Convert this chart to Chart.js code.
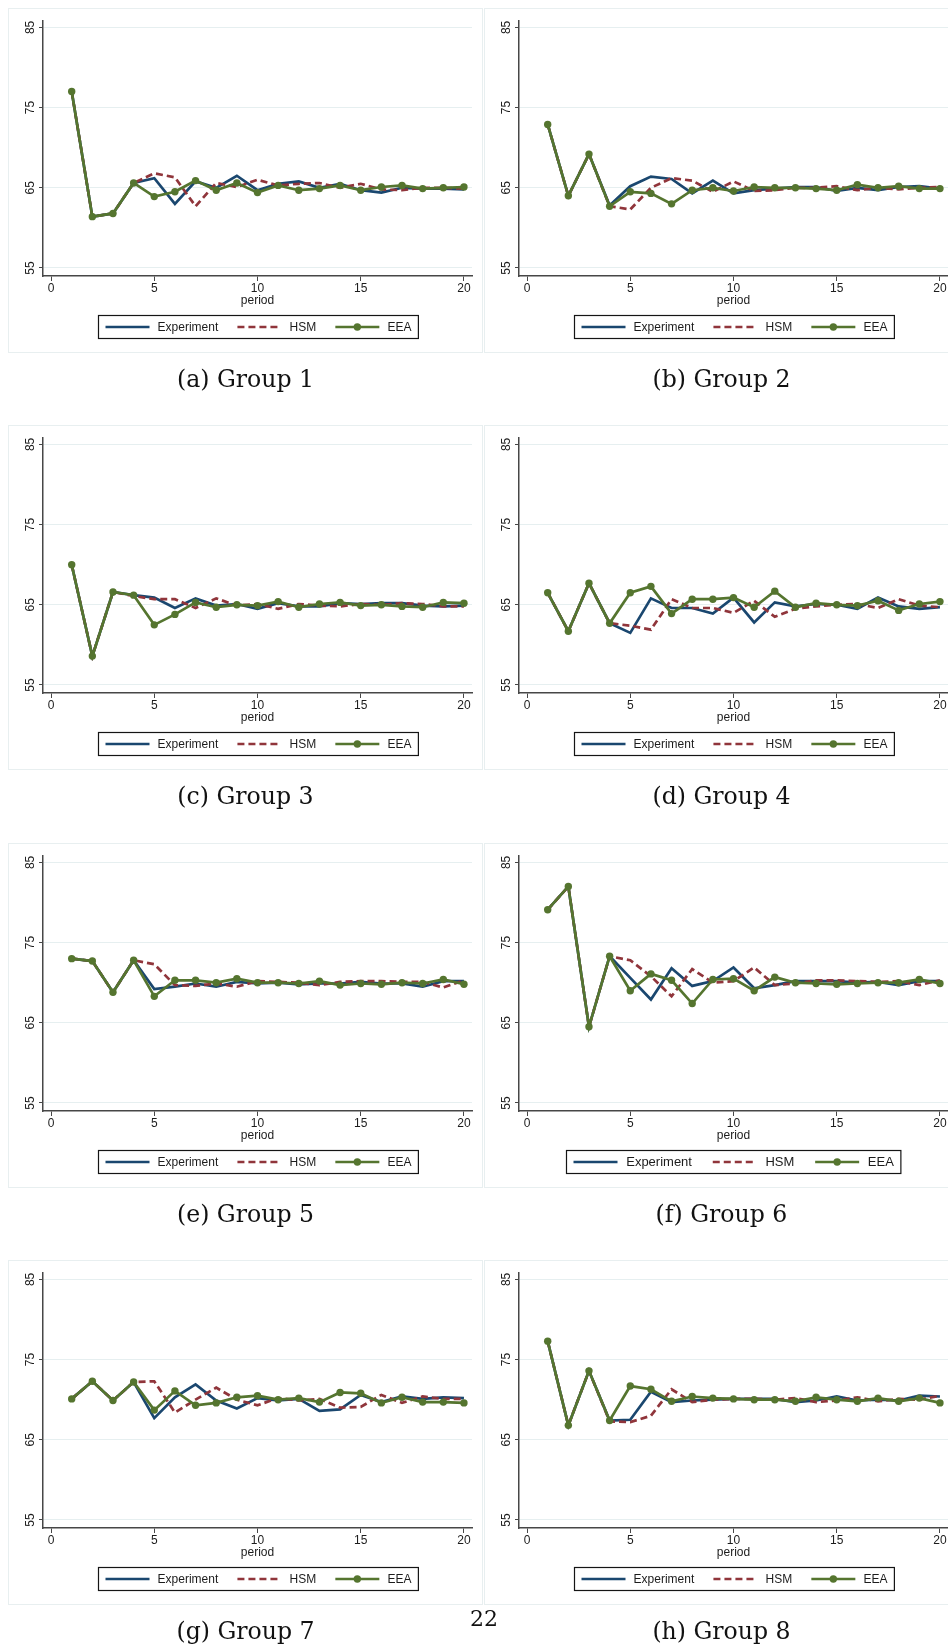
<!DOCTYPE html>
<html>
<head>
<meta charset="utf-8">
<title>Groups 1-8: Experiment, HSM and EEA by period</title>
<script src="https://cdn.jsdelivr.net/npm/chart.js@4.4.1/dist/chart.umd.min.js"></script>
<style>
  html, body { margin: 0; padding: 0; background: #fff; }
  body { width: 948px; height: 1646px; position: relative; overflow: hidden; }
  .panel { position: absolute; width: 475px; height: 345px; outline: 1px solid #e8eff0; outline-offset: -1px; }
  .caption { position: absolute; width: 475px; text-align: center; font-family: "DejaVu Serif", serif;
             font-size: 23.6px; line-height: 24px; color: #111; }
  #pageNo { position: absolute; left: 460px; top: 1608px; width: 48px; text-align: center;
            font-family: "DejaVu Serif", serif; font-size: 22px; line-height: 22px; color: #111; }
</style>
</head>
<body>
<div id="figure"></div>
<div id="pageNo">22</div>
<script>
const periods = [1, 2, 3, 4, 5, 6, 7, 8, 9, 10, 11, 12, 13, 14, 15, 16, 17, 18, 19, 20];
const xTickValues = [0, 5, 10, 15, 20];
const yTickValues = [55, 65, 75, 85];
const seriesNames = ['Experiment', 'HSM', 'EEA'];
const captions = ['(a) Group 1', '(b) Group 2', '(c) Group 3', '(d) Group 4',
                  '(e) Group 5', '(f) Group 6', '(g) Group 7', '(h) Group 8'];

const g1Experiment = [77.0, 61.4, 61.8, 65.6, 66.2, 63.0, 65.8, 65.0, 66.5, 64.7, 65.5, 65.8, 65.0, 65.5, 64.7, 64.4, 65.0, 64.9, 64.9, 64.8];
const g1HSM        = [77.0, 61.4, 61.8, 65.6, 66.8, 66.3, 62.7, 65.6, 65.1, 66.0, 65.3, 65.5, 65.6, 65.0, 65.5, 64.8, 64.7, 65.0, 65.0, 64.9];
const g1EEA        = [77.0, 61.4, 61.8, 65.6, 63.9, 64.5, 65.9, 64.7, 65.6, 64.4, 65.3, 64.7, 64.9, 65.3, 64.7, 65.1, 65.3, 64.9, 65.0, 65.1];

const g2Experiment = [72.9, 64.0, 69.2, 62.8, 65.2, 66.4, 66.1, 64.3, 65.9, 64.3, 64.7, 64.9, 65.1, 65.1, 64.6, 65.0, 64.7, 65.1, 65.2, 64.9];
const g2HSM        = [72.9, 64.0, 69.2, 62.7, 62.3, 65.0, 66.2, 65.9, 64.5, 65.8, 64.6, 64.7, 65.0, 65.0, 65.2, 64.7, 65.0, 64.8, 65.0, 65.1];
const g2EEA        = [72.9, 64.0, 69.2, 62.7, 64.5, 64.3, 63.0, 64.7, 65.0, 64.6, 65.1, 65.0, 65.0, 64.9, 64.7, 65.4, 65.0, 65.2, 64.9, 64.9];

const g3Experiment = [70.0, 58.6, 66.6, 66.2, 65.9, 64.6, 65.8, 64.9, 65.1, 64.5, 65.2, 64.8, 64.8, 65.2, 65.1, 65.2, 65.2, 64.9, 64.8, 64.9];
const g3HSM        = [70.0, 58.6, 66.6, 66.1, 65.7, 65.7, 64.6, 65.8, 64.9, 65.1, 64.5, 65.1, 64.9, 64.8, 65.1, 65.0, 65.2, 65.1, 64.8, 64.8];
const g3EEA        = [70.0, 58.6, 66.6, 66.2, 62.5, 63.8, 65.3, 64.7, 65.0, 64.9, 65.4, 64.7, 65.1, 65.3, 64.9, 65.0, 64.8, 64.7, 65.3, 65.2];

const g4Experiment = [66.5, 61.7, 67.7, 62.7, 61.5, 65.8, 64.6, 64.6, 63.9, 65.9, 62.8, 65.3, 64.8, 65.1, 65.0, 64.5, 65.9, 64.8, 64.5, 64.7];
const g4HSM        = [66.5, 61.7, 67.7, 62.7, 62.4, 61.9, 65.7, 64.6, 64.6, 64.0, 65.5, 63.5, 64.5, 64.8, 65.0, 65.1, 64.6, 65.7, 64.9, 64.7];
const g4EEA        = [66.5, 61.7, 67.7, 62.7, 66.5, 67.3, 63.9, 65.7, 65.7, 65.9, 64.7, 66.7, 64.7, 65.2, 65.0, 64.9, 65.5, 64.3, 65.1, 65.4];

const g5Experiment = [73.0, 72.7, 68.8, 72.8, 69.2, 69.5, 69.9, 69.5, 70.1, 69.9, 70.0, 69.8, 69.9, 69.9, 70.1, 69.9, 69.9, 69.5, 70.2, 70.2];
const g5HSM        = [73.0, 72.7, 68.8, 72.8, 72.3, 69.7, 69.6, 69.9, 69.5, 70.2, 70.1, 70.0, 69.7, 70.1, 70.2, 70.2, 70.1, 70.1, 69.4, 70.3];
const g5EEA        = [73.0, 72.7, 68.8, 72.8, 68.3, 70.3, 70.3, 70.0, 70.5, 70.0, 70.0, 69.9, 70.2, 69.7, 69.9, 69.8, 70.0, 69.9, 70.4, 69.8];

const g6Experiment = [79.1, 82.0, 64.5, 73.3, 70.6, 67.9, 71.8, 69.6, 70.2, 71.9, 69.3, 69.7, 70.2, 70.2, 70.2, 70.0, 70.1, 69.7, 70.2, 70.2];
const g6HSM        = [79.1, 82.0, 64.5, 73.3, 72.8, 70.8, 68.3, 71.7, 70.0, 70.2, 71.9, 69.7, 69.9, 70.3, 70.3, 70.2, 70.1, 70.2, 69.7, 70.3];
const g6EEA        = [79.1, 82.0, 64.5, 73.3, 69.0, 71.1, 70.3, 67.4, 70.4, 70.5, 69.0, 70.7, 70.0, 69.9, 69.8, 69.9, 70.0, 70.0, 70.4, 69.9];

const g7Experiment = [70.1, 72.3, 69.9, 72.2, 67.7, 70.3, 71.9, 69.9, 68.9, 70.2, 69.9, 70.1, 68.6, 68.8, 70.6, 69.7, 70.4, 70.1, 70.3, 70.2];
const g7HSM        = [70.1, 72.3, 69.9, 72.2, 72.3, 68.4, 70.0, 71.5, 70.0, 69.3, 70.2, 69.9, 70.1, 69.0, 69.1, 70.6, 69.6, 70.4, 70.1, 70.1];
const g7EEA        = [70.1, 72.3, 69.9, 72.2, 68.7, 71.1, 69.3, 69.6, 70.3, 70.5, 70.0, 70.2, 69.7, 70.9, 70.8, 69.6, 70.3, 69.7, 69.7, 69.6];

const g8Experiment = [77.3, 66.8, 73.6, 67.4, 67.5, 71.0, 69.7, 69.9, 70.0, 70.1, 70.1, 70.1, 69.7, 69.9, 70.4, 69.9, 70.0, 69.9, 70.5, 70.4];
const g8HSM        = [77.3, 66.8, 73.6, 67.3, 67.2, 68.0, 71.3, 69.7, 70.0, 70.1, 70.1, 70.0, 70.2, 69.7, 69.9, 70.3, 69.8, 70.1, 70.0, 70.5];
const g8EEA        = [77.3, 66.8, 73.6, 67.4, 71.7, 71.3, 69.8, 70.4, 70.2, 70.1, 70.0, 70.0, 69.8, 70.3, 70.0, 69.8, 70.2, 69.8, 70.2, 69.6];

// styling (Stata s2color-like)
const NAVY = '#1a476f', MAROON = '#90353b', GREEN = '#55752f';
const AXIS = '#474747', GRID = '#e6eff0', TEXT = '#1c1c1c';
const FONT = '"Liberation Sans", Arial, Helvetica, sans-serif';
const colLeft = [8, 484];
const rowTop = [8, 425, 843, 1260];

const groups = [
    [g1Experiment, g1HSM, g1EEA], [g2Experiment, g2HSM, g2EEA],
    [g3Experiment, g3HSM, g3EEA], [g4Experiment, g4HSM, g4EEA],
    [g5Experiment, g5HSM, g5EEA], [g6Experiment, g6HSM, g6EEA],
    [g7Experiment, g7HSM, g7EEA], [g8Experiment, g8HSM, g8EEA],
];

// Legend drawn Stata style: framed box under the axis title
const stataLegend = {
    id: 'stataLegend',
    afterDraw(chart, args, opts) {
        const ctx = chart.ctx;
        const size = opts.fontSize;
        const area = chart.chartArea;
        ctx.save();
        ctx.font = size + 'px ' + FONT;
        const sample = 44, gapText = size * 0.67, gapItem = size * 1.6, pad = 7;
        const items = chart.data.datasets.map(ds => ({ ds: ds, w: ctx.measureText(ds.label).width }));
        let total = pad * 2 + gapItem * (items.length - 1);
        items.forEach(it => { total += sample + gapText + it.w; });
        const left = Math.round((area.left + area.right) / 2 - total / 2) + 0.5;
        const top = Math.round(area.bottom + opts.offset) + 0.5;
        const h = opts.height;
        const cy = top + h / 2;

        ctx.strokeStyle = '#151515';
        ctx.lineWidth = 1.2;
        ctx.strokeRect(left, top, total, h);

        let x = left + pad;
        items.forEach(it => {
            const ds = it.ds;
            ctx.beginPath();
            ctx.setLineDash(ds.borderDash || []);
            ctx.strokeStyle = ds.borderColor;
            ctx.lineWidth = ds.borderWidth;
            ctx.moveTo(x, cy);
            ctx.lineTo(x + sample, cy);
            ctx.stroke();
            ctx.setLineDash([]);
            if (ds.pointRadius > 0) {
                ctx.beginPath();
                ctx.fillStyle = ds.pointBackgroundColor;
                ctx.arc(x + sample / 2, cy, ds.pointRadius, 0, Math.PI * 2);
                ctx.fill();
            }
            x += sample + gapText;
            ctx.fillStyle = TEXT;
            ctx.textBaseline = 'middle';
            ctx.textAlign = 'left';
            ctx.fillText(ds.label, x, cy + 0.5);
            x += it.w + gapItem;
        });
        ctx.restore();
    }
};

document.addEventListener('DOMContentLoaded', function () {
    const figure = document.getElementById('figure');

    groups.forEach(function (series, i) {
        const left = colLeft[i % 2];
        const top = rowTop[Math.floor(i / 2)];

        const panel = document.createElement('div');
        panel.className = 'panel';
        panel.style.left = left + 'px';
        panel.style.top = top + 'px';
        const canvas = document.createElement('canvas');
        canvas.width = 475;
        canvas.height = 345;
        panel.appendChild(canvas);
        figure.appendChild(panel);

        const caption = document.createElement('div');
        caption.className = 'caption';
        caption.style.left = left + 'px';
        caption.style.top = (top + 359) + 'px';
        caption.textContent = captions[i];
        figure.appendChild(caption);

        const points = values => periods.map((p, k) => ({ x: p, y: values[k] }));
        const tickFont = { family: FONT, size: 12 };

        new Chart(canvas, {
            type: 'line',
            data: {
                datasets: [
                    {
                        label: seriesNames[0], data: points(series[0]),
                        borderColor: NAVY, borderWidth: 2.7, pointRadius: 0, order: 3,
                    },
                    {
                        label: seriesNames[1], data: points(series[1]),
                        borderColor: MAROON, borderWidth: 2.7, borderDash: [7, 4], pointRadius: 0, order: 2,
                    },
                    {
                        label: seriesNames[2], data: points(series[2]),
                        borderColor: GREEN, borderWidth: 2.7, pointRadius: 3.7,
                        pointBackgroundColor: GREEN, pointBorderWidth: 0, order: 1,
                    },
                ],
            },
            options: {
                responsive: false,
                animation: false,
                devicePixelRatio: 1,
                layout: { padding: { top: 13, right: 11, left: 0, bottom: 0 } },
                elements: { line: { tension: 0 } },
                plugins: {
                    legend: { display: false },
                    tooltip: { enabled: false },
                    stataLegend: { fontSize: i === 5 ? 13 : 12, offset: 39, height: 23 },
                },
                scales: {
                    x: {
                        type: 'linear',
                        min: -0.39,
                        max: 20.39,
                        afterBuildTicks: axis => { axis.ticks = xTickValues.map(v => ({ value: v })); },
                        afterFit: axis => { axis.height = 77; },
                        grid: { drawOnChartArea: false, tickLength: 5, tickColor: AXIS, tickWidth: 1 },
                        border: { color: AXIS, width: 1.5 },
                        ticks: { font: tickFont, color: TEXT, padding: 0, maxRotation: 0, autoSkip: false },
                        title: {
                            display: true, text: 'period', font: tickFont, color: TEXT,
                            padding: { top: 0, bottom: 45 },
                        },
                    },
                    y: {
                        min: 54,
                        max: 85.8,
                        afterBuildTicks: axis => { axis.ticks = yTickValues.map(v => ({ value: v })); },
                        afterFit: axis => { axis.width = 35; },
                        grid: { color: GRID, lineWidth: 1, tickLength: 4, tickColor: AXIS, tickWidth: 1 },
                        border: { color: AXIS, width: 1.5 },
                        ticks: {
                            font: tickFont, color: TEXT, padding: 2,
                            minRotation: 90, maxRotation: 90, crossAlign: 'center',
                        },
                    },
                },
            },
            plugins: [stataLegend],
        });
    });
});
</script>
</body>
</html>
